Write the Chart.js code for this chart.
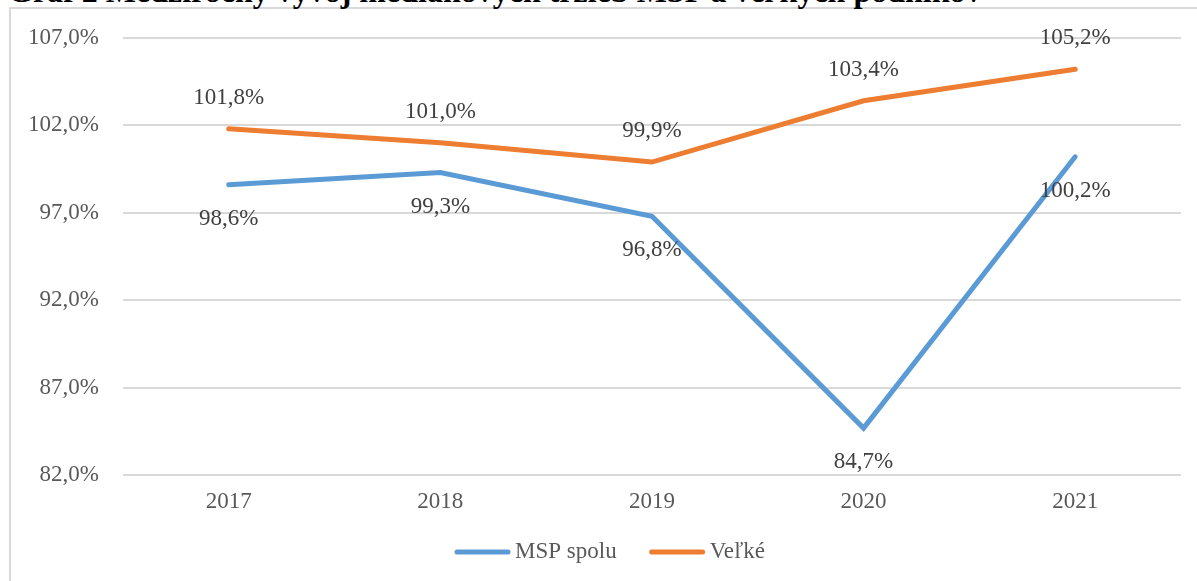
<!DOCTYPE html>
<html>
<head>
<meta charset="utf-8">
<script src="https://cdn.jsdelivr.net/npm/chart.js@4.4.0/dist/chart.umd.min.js"></script>
<style>
  body { margin: 0; background: #fff; overflow: hidden; }
  #frame { position: absolute; left: 9px; top: 7px; width: 1300px; height: 700px; border: 2px solid #d9d9d9; box-sizing: border-box; }
  #title { position: absolute; left: 8px; top: -27px; font: bold 32px "Liberation Serif", serif; color: #000; white-space: nowrap; }
  #chart { position: absolute; left: 0; top: 0; }
</style>
</head>
<body>
<div id="frame"></div>
<div id="title">Graf 2 Medziročný vývoj mediánových tržieb MSP a veľkých podnikov</div>
<canvas id="chart" width="1197" height="581"></canvas>
<script>
var years = ['2017', '2018', '2019', '2020', '2021'];
var msp = [98.6, 99.3, 96.8, 84.7, 100.2];
var velke = [101.8, 101.0, 99.9, 103.4, 105.2];
var seriesNames = ['MSP spolu', 'Veľké'];

var FONT = '"Liberation Serif", serif';

function pct(v) {
  return v.toFixed(1).replace('.', ',') + '%';
}

// hodnoty nad/pod bodmi
var pointLabels = {
  id: 'pointLabels',
  afterDatasetsDraw: function(chart) {
    var ctx = chart.ctx;
    ctx.save();
    ctx.font = '23px ' + FONT;
    ctx.fillStyle = '#404040';
    ctx.textAlign = 'center';
    ctx.textBaseline = 'middle';
    chart.data.datasets.forEach(function(ds, i) {
      var meta = chart.getDatasetMeta(i);
      var shift = i === 0 ? 34 : -31;
      meta.data.forEach(function(pt, j) {
        ctx.fillText(pct(ds.data[j]), pt.x, pt.y + shift);
      });
    });
    ctx.restore();
  }
};

// legenda dole, ciary ako v Exceli
var lineLegend = {
  id: 'lineLegend',
  afterDraw: function(chart) {
    var ctx = chart.ctx;
    var lineW = 55, gapText = 5, gapItem = 33, y = 552;
    ctx.save();
    ctx.font = '23px ' + FONT;
    var total = 0;
    chart.data.datasets.forEach(function(ds, i) {
      total += lineW + gapText + ctx.measureText(ds.label).width;
      if (i > 0) total += gapItem;
    });
    var x = 610 - total / 2;
    ctx.textBaseline = 'middle';
    ctx.textAlign = 'left';
    chart.data.datasets.forEach(function(ds) {
      ctx.strokeStyle = ds.borderColor;
      ctx.lineWidth = 5;
      ctx.lineCap = 'round';
      ctx.beginPath();
      ctx.moveTo(x + 2, y);
      ctx.lineTo(x + lineW - 2, y);
      ctx.stroke();
      x += lineW + gapText;
      ctx.fillStyle = '#595959';
      ctx.fillText(ds.label, x, y);
      x += ctx.measureText(ds.label).width + gapItem;
    });
    ctx.restore();
  }
};

var ctx = document.getElementById('chart').getContext('2d');
var myChart = new Chart(ctx, {
  type: 'line',
  data: {
    labels: years,
    datasets: [{
      label: seriesNames[0],
      data: msp,
      borderColor: '#5b9bd5',
      backgroundColor: '#5b9bd5',
      borderWidth: 5,
      borderCapStyle: 'round',
      pointRadius: 0,
      tension: 0
    }, {
      label: seriesNames[1],
      data: velke,
      borderColor: '#ed7d31',
      backgroundColor: '#ed7d31',
      borderWidth: 5,
      borderCapStyle: 'round',
      pointRadius: 0,
      tension: 0
    }]
  },
  options: {
    responsive: false,
    animation: false,
    layout: { padding: { left: 4, right: 16, top: 30, bottom: 60 } },
    plugins: {
      title: { display: false },
      tooltip: { enabled: false },
      legend: { display: false }
    },
    scales: {
      x: {
        offset: true,
        grid: { display: false },
        border: { display: false },
        ticks: {
          color: '#595959',
          padding: 5,
          font: { family: FONT, size: 23 }
        }
      },
      y: {
        min: 82,
        max: 107,
        grid: { color: '#d9d9d9', lineWidth: 2, drawTicks: false },
        border: { display: false },
        ticks: {
          stepSize: 5,
          padding: 24,
          color: '#595959',
          font: { family: FONT, size: 23 },
          callback: function(v) { return pct(v); }
        }
      }
    }
  },
  plugins: [pointLabels, lineLegend]
});
</script>
</body>
</html>
